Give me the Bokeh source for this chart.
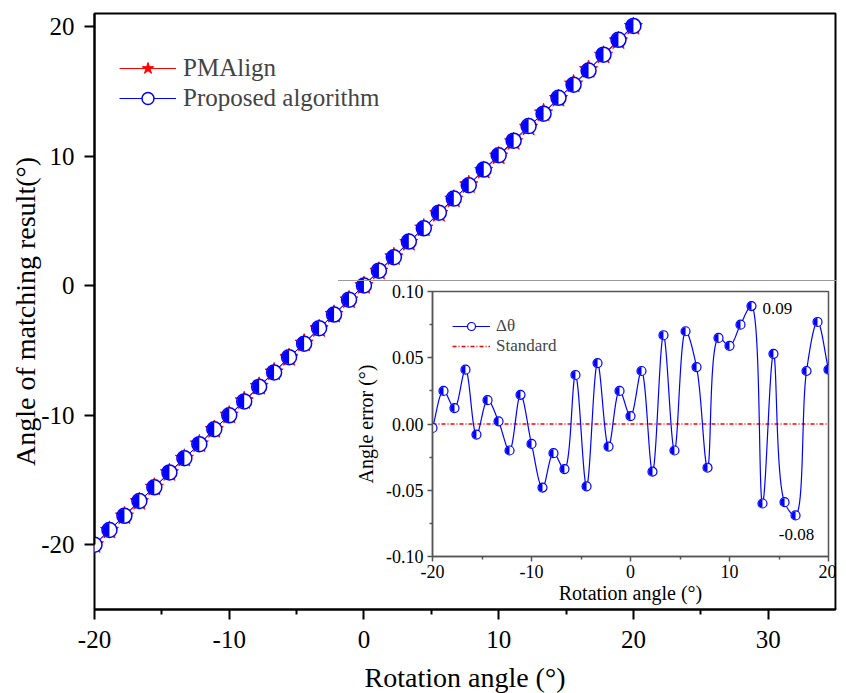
import numpy as np
from bokeh.plotting import figure
from bokeh.layouts import column
from bokeh.models import FixedTicker, NumeralTickFormatter, Legend, LegendItem, Label
from bokeh.embed import file_html
from bokeh.resources import INLINE

FONT = "Liberation Serif"

# ---------------- data ----------------
angles = [-20.0, -18.89, -17.78, -16.67, -15.56, -14.44, -13.33, -12.22, -11.11, -10.0,
          -8.89, -7.78, -6.67, -5.56, -4.44, -3.33, -2.22, -1.11, 0.0, 1.11,
          2.22, 3.33, 4.44, 5.56, 6.67, 7.78, 8.89, 10.0, 11.11, 12.22,
          13.33, 14.44, 15.56, 16.67, 17.78, 18.89, 20.0]
pmalign_result = [-20.0, -18.89, -17.78, -16.67, -15.56, -14.44, -13.33, -12.22, -11.11, -10.0,
                  -8.89, -7.78, -6.67, -5.56, -4.44, -3.33, -2.22, -1.11, 0.0, 1.11,
                  2.22, 3.33, 4.44, 5.56, 6.67, 7.78, 8.89, 10.0, 11.11, 12.22,
                  13.33, 14.44, 15.56, 16.67, 17.78, 18.89, 20.0]
proposed_result = [-20.003, -18.865, -17.768, -16.629, -15.568, -14.422, -13.328, -12.240, -11.088, -10.015,
                   -8.938, -7.802, -6.704, -5.523, -4.487, -3.284, -2.237, -1.085, 0.006, 1.150,
                   2.184, 3.397, 4.420, 5.630, 6.713, 7.747, 8.955, 10.059, 11.185, 12.309,
                   13.270, 14.493, 15.501, 16.601, 17.820, 18.967, 20.041]
angle_error = [-0.003, 0.025, 0.012, 0.041, -0.008, 0.018, 0.002, -0.020, 0.022, -0.015,
               -0.048, -0.022, -0.034, 0.037, -0.047, 0.046, -0.017, 0.025, 0.006, 0.040,
               -0.036, 0.067, -0.020, 0.070, 0.043, -0.033, 0.065, 0.059, 0.075, 0.089,
               -0.060, 0.053, -0.059, -0.069, 0.040, 0.077, 0.041]
standard_x = [-20, 20]
standard_y = [0.0, 0.0]

x_ticks = [-20, -10, 0, 10, 20, 30]
y_ticks = [-20, -10, 0, 10, 20]
inset_x_ticks = [-20, -10, 0, 10, 20]
inset_y_ticks = [-0.10, -0.05, 0.0, 0.05, 0.10]
max_label = "0.09"
min_label = "-0.08"

# inset geometry (pixels)
IN_FW, IN_FH = 395, 264
IN_L, IN_R, IN_T, IN_B = 92, 11, 10, 53
IN_XR = (-20, 20)
IN_YR = (-0.1, 0.1)


def smooth_curve(x, y, sx_scale, sy_scale, n=20, alpha=0.5):
    """Centripetal Catmull-Rom line through the points, computed in screen space
    (only used to draw the connecting line between the measured points)."""
    P = np.column_stack([np.asarray(x, float) * sx_scale, np.asarray(y, float) * sy_scale])
    P = np.vstack([2 * P[0] - P[1], P, 2 * P[-1] - P[-2]])
    out = []
    for i in range(1, len(P) - 2):
        P0, P1, P2, P3 = P[i - 1], P[i], P[i + 1], P[i + 2]
        t0 = 0.0
        t1 = t0 + np.linalg.norm(P1 - P0) ** alpha
        t2 = t1 + np.linalg.norm(P2 - P1) ** alpha
        t3 = t2 + np.linalg.norm(P3 - P2) ** alpha
        t = np.linspace(t1, t2, n, endpoint=False)[:, None]
        A1 = (t1 - t) / (t1 - t0) * P0 + (t - t0) / (t1 - t0) * P1
        A2 = (t2 - t) / (t2 - t1) * P1 + (t - t1) / (t2 - t1) * P2
        A3 = (t3 - t) / (t3 - t2) * P2 + (t - t2) / (t3 - t2) * P3
        B1 = (t2 - t) / (t2 - t0) * A1 + (t - t0) / (t2 - t0) * A2
        B2 = (t3 - t) / (t3 - t1) * A2 + (t - t1) / (t3 - t1) * A3
        C = (t2 - t) / (t2 - t1) * B1 + (t - t1) / (t2 - t1) * B2
        out.append(C)
    out.append(P[-2][None, :])
    C = np.vstack(out)
    return list(C[:, 0] / sx_scale), list(C[:, 1] / sy_scale)


# ---------------- main figure ----------------
p = figure(frame_width=741, frame_height=596, x_range=(-20, 35), y_range=(-25, 21),
           output_backend="svg", toolbar_location=None,
           min_border_left=94, min_border_right=11, min_border_top=13, min_border_bottom=84)
p.grid.visible = False
p.outline_line_color = "black"
p.outline_line_width = 2
p.background_fill_color = "white"
p.border_fill_color = "white"

p.xaxis.ticker = FixedTicker(ticks=x_ticks, minor_ticks=[t + 5 for t in x_ticks[:-1]])
p.yaxis.ticker = FixedTicker(ticks=y_ticks, minor_ticks=[])
p.xaxis.formatter = NumeralTickFormatter(format="0")
p.yaxis.formatter = NumeralTickFormatter(format="0")
p.yaxis.bounds = (-20, 21.1)
for ax in (p.xaxis[0], p.yaxis[0]):
    ax.axis_line_width = 2
    ax.axis_line_color = "black"
    ax.major_tick_line_width = 2
    ax.minor_tick_line_width = 2
    ax.major_tick_out = 10
    ax.major_tick_in = 0
    ax.minor_tick_out = 5
    ax.minor_tick_in = 0
    ax.major_label_text_font = FONT
    ax.major_label_text_font_size = "25px"
    ax.major_label_text_color = "black"
    ax.axis_label_text_font = FONT
    ax.axis_label_text_font_size = "28px"
    ax.axis_label_text_font_style = "normal"
    ax.axis_label_text_color = "black"
p.xaxis.axis_label = "Rotation angle (°)"
p.yaxis.axis_label = "Angle of matching result(°)"
p.xaxis.major_label_standoff = 11
p.yaxis.major_label_standoff = 10
p.xaxis.axis_label_standoff = 11
p.yaxis.axis_label_standoff = -3

pm_line = p.line(angles, pmalign_result, line_color="red", line_width=1)
pm_star = p.scatter(angles, pmalign_result, marker="star", size=19,
                    fill_color="red", line_color="red", line_width=1)
pr_line = p.line(angles, proposed_result, line_color="blue", line_width=1)
pr_circ = p.scatter(angles, proposed_result, marker="circle", size=15,
                    fill_color="white", line_color="blue", line_width=1.5)
p.wedge(angles, proposed_result, radius=7, radius_units="screen",
        start_angle=np.pi / 2, end_angle=3 * np.pi / 2,
        fill_color="blue", line_color=None)

legend = Legend(items=[LegendItem(label="PMAlign", renderers=[pm_line, pm_star]),
                       LegendItem(label="Proposed algorithm", renderers=[pr_line, pr_circ])],
                location=(25, 496), padding=0, margin=0, spacing=0,
                glyph_width=57, glyph_height=30, label_height=30, label_standoff=7,
                label_text_font=FONT, label_text_font_size="25px",
                background_fill_alpha=0, border_line_alpha=0)
p.add_layout(legend)

# ---------------- inset figure ----------------
inset = figure(frame_width=IN_FW, frame_height=IN_FH, x_range=IN_XR, y_range=IN_YR,
               output_backend="svg", toolbar_location=None,
               min_border_left=IN_L, min_border_right=IN_R,
               min_border_top=IN_T, min_border_bottom=IN_B,
               margin=(-415, 0, 0, 338),
               styles={"border-top": "1px solid #9a9a9a", "border-right": "1px solid #9a9a9a"})
inset.grid.visible = False
inset.border_fill_alpha = 0
inset.background_fill_color = "white"
inset.outline_line_color = "#555555"
inset.outline_line_width = 1.5

inset.xaxis.ticker = FixedTicker(ticks=inset_x_ticks, minor_ticks=[t + 5 for t in inset_x_ticks[:-1]])
inset.yaxis.ticker = FixedTicker(ticks=inset_y_ticks,
                                 minor_ticks=[t + 0.025 for t in inset_y_ticks[:-1]])
inset.xaxis.formatter = NumeralTickFormatter(format="0")
inset.yaxis.formatter = NumeralTickFormatter(format="0.00")
for ax in (inset.xaxis[0], inset.yaxis[0]):
    ax.axis_line_width = 1.5
    ax.axis_line_color = "#555555"
    ax.major_tick_line_color = "#555555"
    ax.minor_tick_line_color = "#555555"
    ax.major_tick_line_width = 1.5
    ax.minor_tick_line_width = 1.5
    ax.major_tick_out = 5
    ax.major_tick_in = 0
    ax.minor_tick_out = 3
    ax.minor_tick_in = 0
    ax.major_label_text_font = FONT
    ax.major_label_text_font_size = "18px"
    ax.major_label_text_color = "black"
    ax.axis_label_text_font = FONT
    ax.axis_label_text_font_size = "20px"
    ax.axis_label_text_font_style = "normal"
    ax.axis_label_text_color = "black"
inset.xaxis.axis_label = "Rotation angle (°)"
inset.yaxis.axis_label = "Angle error (°)"
inset.xaxis.major_label_standoff = 3
inset.yaxis.major_label_standoff = 4
inset.xaxis.axis_label_standoff = 1
inset.yaxis.axis_label_standoff = 6

std_line = inset.line(standard_x, standard_y, line_color="#ff0000", line_width=1.3,
                      line_dash="4 2 1 2")
px_per_x = IN_FW / (IN_XR[1] - IN_XR[0])
px_per_y = IN_FH / (IN_YR[1] - IN_YR[0])
cx, cy = smooth_curve(angles, angle_error, px_per_x, px_per_y)
err_line = inset.line(cx, cy, line_color="blue", line_width=1.2)
err_circ = inset.scatter(angles, angle_error, marker="circle", size=9,
                         fill_color="white", line_color="blue", line_width=1.2)
inset.wedge(angles, angle_error, radius=4, radius_units="screen",
            start_angle=np.pi / 2, end_angle=3 * np.pi / 2,
            fill_color="blue", line_color=None)

imax = int(np.argmax(angle_error))
imin = int(np.argmin(angle_error))
inset.add_layout(Label(x=angles[imax], y=angle_error[imax], text=max_label,
                       x_offset=11, y_offset=-2, text_align="left", text_baseline="middle",
                       text_font=FONT, text_font_size="17px", text_color="black"))
inset.add_layout(Label(x=angles[imin], y=angle_error[imin], text=min_label,
                       x_offset=1, y_offset=-19, text_align="center", text_baseline="middle",
                       text_font=FONT, text_font_size="17px", text_color="black"))

ilegend = Legend(items=[LegendItem(label="Δθ", renderers=[err_line, err_circ]),
                        LegendItem(label="Standard", renderers=[std_line])],
                 location=(20, 200), padding=0, margin=0, spacing=0,
                 glyph_width=38, glyph_height=20, label_height=20, label_standoff=6,
                 label_text_font=FONT, label_text_font_size="17px",
                 background_fill_alpha=0, border_line_alpha=0)
inset.add_layout(ilegend)

layout = column(p, inset)
open("out.html", "w").write(file_html(layout, INLINE))
